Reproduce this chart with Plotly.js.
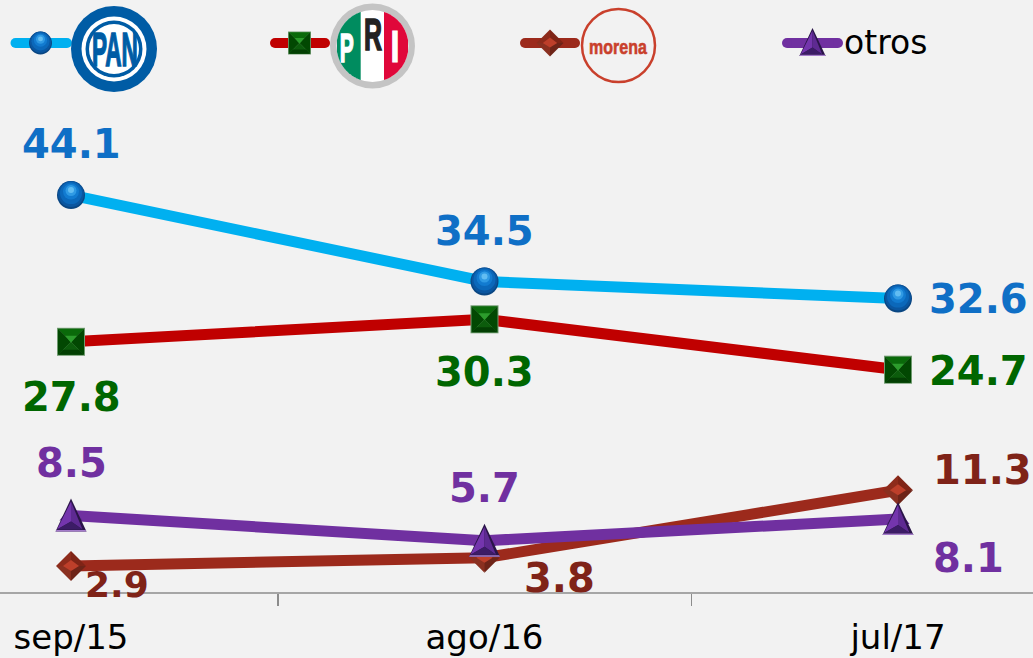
<!DOCTYPE html>
<html><head><meta charset="utf-8">
<script src="https://cdn.plot.ly/plotly-3.0.1.min.js"></script>
<style>html,body{margin:0;padding:0;background:#f2f2f2}#c{width:1033px;height:658px}</style></head>
<body><div id="c"></div>
<script>
const categories=['sep/15','ago/16','jul/17'];
const positions=[0,1,2];
const pan=[44.1,34.5,32.6];
const pri=[27.8,30.3,24.7];
const morena=[2.9,3.8,11.3];
const otros=[8.5,5.7,8.1];
const panColor='#00b0f0',priColor='#c00000',morenaColor='#9c2a1c',otrosColor='#7030a0';
const W=1033,H=658,B=66,PH=H-B;
const font='"DejaVu Sans", sans-serif';
const logoFont='"Liberation Sans", sans-serif';

function seriesTrace(name,vals,lc,sym,mc,size){
  return {type:'scatter',mode:'lines+markers',name,x:positions,y:vals,cliponaxis:false,
    line:{color:lc,width:11},marker:{symbol:sym,size,color:mc}};
}
function keyTrace(xs,yk,lc){
  return {type:'scatter',mode:'lines+markers',xaxis:'x2',yaxis:'y2',x:xs,y:[yk,yk],hoverinfo:'skip',
    line:{color:lc,width:10},marker:{symbol:'circle',size:10,color:lc}};
}
const traces=[
  seriesTrace('PAN',pan,panColor,'circle','#0a5aa6',26),
  seriesTrace('PRI',pri,priColor,'square','#034a03',25),
  seriesTrace('morena',morena,morenaColor,'diamond','#95301f',21),
  seriesTrace('otros',otros,otrosColor,'triangle-up','#5e2a92',20),
  keyTrace([15.5,67],43,panColor),
  keyTrace([275,325],43,priColor),
  keyTrace([525,575],43,morenaColor),
  keyTrace([787,838],43,otrosColor)
];

// pixel-sized facets anchored to data values, so they follow the axis scale
function poly(xv,yv,xa,ya,k,pts,fill){
  return {type:'path',xref:xa,yref:ya,xsizemode:'pixel',ysizemode:'pixel',xanchor:xv,yanchor:yv,
    path:'M'+pts.map(p=>(p[0]*k).toFixed(2)+','+(p[1]*k).toFixed(2)).join('L')+'Z',
    fillcolor:fill,line:{width:0},layer:'above'};
}
function disc(xv,yv,xa,ya,k,dy,r,fill){
  return {type:'circle',xref:xa,yref:ya,xsizemode:'pixel',ysizemode:'pixel',xanchor:xv,yanchor:yv,
    x0:-r*k,x1:r*k,y0:(dy-r)*k,y1:(dy+r)*k,fillcolor:fill,line:{width:0},layer:'above'};
}
function sphere(x,y,xa,ya,k){
  return [[0,14,'#0a4682'],[1,13,'#0a56a0'],[2,11,'#0b68ba'],[3.5,8,'#127bd0'],[4.5,5.5,'#2f9ae4'],[5,3,'#62bdf2']]
    .map(d=>disc(x,y,xa,ya,k,d[0],d[1],d[2]));
}
function square(x,y,xa,ya,k){
  const p=(pts,f)=>poly(x,y,xa,ya,k,pts,f);
  return [
    p([[-14,-14],[14,-14],[14,14],[-14,14]],'#6f9a6f'),
    p([[-13,13],[13,13],[0,0]],'#0a6a0a'),
    p([[-13,13],[-13,-13],[0,0]],'#024802'),
    p([[13,13],[13,-13],[0,0]],'#024802'),
    p([[-13,-13],[13,-13],[0,0]],'#0c5c0c'),
    p([[-13,-13],[13,-13],[8,-8],[-8,-8]],'#033f03'),
    p([[-6,6],[6,6],[0,-1]],'#2c9c2c')
  ];
}
function diamond(x,y,xa,ya,k){
  const p=(pts,f)=>poly(x,y,xa,ya,k,pts,f);
  return [
    p([[-15,0],[0,15],[0,0]],'#8e2b1b'),
    p([[15,0],[0,15],[0,0]],'#7f2416'),
    p([[-15,0],[0,-15],[0,0]],'#8a3020'),
    p([[15,0],[0,-15],[0,0]],'#6e2418'),
    p([[-8,0],[0,6],[8,0],[0,-5]],'#bd3f2a')
  ];
}
function triangle(x,y,xa,ya,k){
  const p=(pts,f)=>poly(x,y,xa,ya,k,pts,f);
  return [
    p([[-15.5,-16],[15.5,-16],[0,17]],'#2a1448'),
    p([[-14,-14],[0,14],[0,-6]],'#7435ad'),
    p([[11.5,-14],[0,14],[0,-6]],'#5e2a92'),
    p([[-14,-14],[11.5,-14],[0,-6]],'#3c1c66'),
    p([[-15.5,-16],[15.5,-16],[14.6,-14.5],[-14.6,-14.5]],'#a57ccb')
  ];
}

const markerShapes=[];
positions.forEach((x,i)=>markerShapes.push(...sphere(x,pan[i],'x','y',1)));
positions.forEach((x,i)=>markerShapes.push(...square(x,pri[i],'x','y',1)));
positions.forEach((x,i)=>markerShapes.push(...diamond(x,morena[i],'x','y',1)));
positions.forEach((x,i)=>markerShapes.push(...triangle(x,otros[i],'x','y',1)));
markerShapes.push(...sphere(40.5,43,'x2','y2',0.82),...square(299.5,43,'x2','y2',0.82),
  ...diamond(550,43,'x2','y2',0.9),...triangle(812.5,42.5,'x2','y2',0.85));

// logos
const px=x=>x/W, py=y=>1-y/PH;
function circle(cx,cy,r,fill,line,lw){return {type:'circle',xref:'paper',yref:'paper',x0:px(cx-r),x1:px(cx+r),y0:py(cy+r),y1:py(cy-r),fillcolor:fill,line:{color:line||fill,width:lw||0},layer:'above'};}
function slice(cx,cy,r,xa,xb,fill){
  const pts=[];
  for(let i=0;i<=16;i++){const x=xa+(xb-xa)*i/16;const d=Math.sqrt(Math.max(0,r*r-(x-cx)*(x-cx)));pts.push([x,cy-d]);}
  for(let i=16;i>=0;i--){const x=xa+(xb-xa)*i/16;const d=Math.sqrt(Math.max(0,r*r-(x-cx)*(x-cx)));pts.push([x,cy+d]);}
  return {type:'path',xref:'paper',yref:'paper',path:'M'+pts.map(p=>px(p[0]).toFixed(5)+','+py(p[1]).toFixed(5)).join('L')+'Z',fillcolor:fill,line:{width:0},layer:'above'};
}
const logos=[
  circle(114,49,43,'#005ca5'),circle(114,49,32.5,'#ffffff'),circle(114,49,28.5,'#005ca5'),circle(114,49,25,'#ffffff'),
  circle(372.5,46,42.5,'#c4c4c4'),circle(372.5,46,36,'#ffffff'),
  slice(372.5,46,36,337,360.7,'#008c5f'),slice(372.5,46,36,384,408,'#e0073a'),
  circle(618.5,45.5,36.5,'#f2f2f2','#c9402c',2.5)
];
function logoText(x,y,text,color,size){
  return {xref:'paper',yref:'paper',x:px(x),y:py(y),text,showarrow:false,xanchor:'center',yanchor:'middle',
    font:{family:logoFont,size,color,weight:700}};
}
const logoFit={PAN:[46,1.6],P:[14,1.6],R:[18,1.6],I:[9,1],morena:[58,0.6]};
function val(xv,yv,dx,dy,text,color,size){
  return {x:xv,y:yv,xref:'x',yref:'y',text:'<b>'+text+'</b>',showarrow:false,xanchor:'center',yanchor:'middle',xshift:dx,yshift:dy,
    font:{family:font,size:size||40,color}};
}
const cBlue='#0f6fc6',cGreen='#006600',cBrown='#7f2318',cPurple='#7030a0';
const annotations=[
  val(0,pan[0],0,51,String(pan[0]),cBlue),val(1,pan[1],0,51,String(pan[1]),cBlue),val(2,pan[2],80,0,String(pan[2]),cBlue),
  val(0,pri[0],0,-55,String(pri[0]),cGreen),val(1,pri[1],0,-53,String(pri[1]),cGreen),val(2,pri[2],80,-1,String(pri[2]),cGreen),
  val(0,morena[0],46,-19,String(morena[0]),cBrown,36),val(1,morena[1],75,-20,String(morena[1]),cBrown),val(2,morena[2],84,20,String(morena[2]),cBrown),
  val(0,otros[0],0,53,String(otros[0]),cPurple),val(1,otros[1],0,53,String(otros[1]),cPurple),val(2,otros[2],70,-39,String(otros[2]),cPurple),
  logoText(115,49.5,'PAN','#005ca5',48),
  logoText(346.5,47.5,'P','#ffffff',41),
  logoText(373,34.5,'R','#222222',44),
  logoText(394.5,46,'I','#ffffff',44),
  logoText(618,46,'morena','#c9402c',21),
  {xref:'paper',yref:'paper',x:px(842),y:py(43),text:'otros',showarrow:false,xanchor:'left',yanchor:'middle',font:{family:font,size:33,color:'#000'}}
];
const layout={
  width:W,height:H,showlegend:false,paper_bgcolor:'#f2f2f2',plot_bgcolor:'#f2f2f2',
  margin:{l:0,r:0,t:0,b:B},
  xaxis:{range:[-71/413.5,(W-71)/413.5],tickmode:'array',tickvals:positions,ticktext:categories,ticks:'',
    showgrid:false,zeroline:false,showline:true,linecolor:'#a6a6a6',linewidth:2,ticklabelstandoff:14,
    tickfont:{family:font,size:34,color:'#000'},
    minor:{tickmode:'array',tickvals:[0.5,1.5],ticks:'outside',ticklen:12,tickcolor:'#8c8c8c',tickwidth:1.5,showgrid:false}},
  yaxis:{range:[0,PH/9],visible:false,showgrid:false,zeroline:false},
  xaxis2:{range:[0,W],overlaying:'x',visible:false,showgrid:false,zeroline:false},
  yaxis2:{range:[PH,0],overlaying:'y',visible:false,showgrid:false,zeroline:false},
  shapes:[...markerShapes,...logos],annotations
};
Plotly.newPlot('c',traces,layout,{displayModeBar:false,staticPlot:true}).then(()=>{
  // the logos' lettering is condensed: squeeze the real text to its width
  document.querySelectorAll('.annotation-text').forEach(t=>{
    const fit=logoFit[t.textContent];
    if(!fit) return;
    const b=t.getBBox(), cx=b.x+b.width/2, sx=fit[0]/b.width;
    t.setAttribute('transform','translate('+cx+',0) scale('+sx+',1) translate('+(-cx)+',0)');
    t.style.stroke=t.style.fill;
    t.style.strokeWidth=fit[1]+'px';
  });
});
</script></body></html>
